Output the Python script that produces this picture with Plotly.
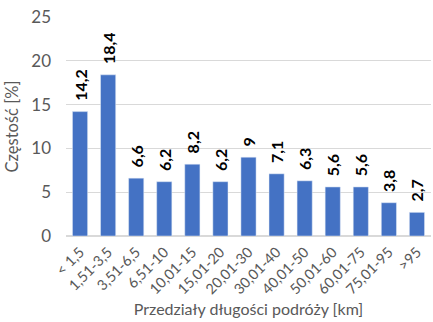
import plotly.graph_objects as go

categories = ["< 1,5", "1,51-3,5", "3,51-6,5", "6,51-10", "10,01-15", "15,01-20",
              "20,01-30", "30,01-40", "40,01-50", "50,01-60", "60,01-75", "75,01-95", ">95"]
values = [14.2, 18.4, 6.6, 6.2, 8.2, 6.2, 9, 7.1, 6.3, 5.6, 5.6, 3.8, 2.7]
y_ticks = [0, 5, 10, 15, 20, 25]

labels = ["\u00a0\u00a0" + str(v).replace(".", ",") for v in values]

fig = go.Figure(go.Bar(
    x=categories, y=values, text=labels, textposition="outside",
    textangle=-90, cliponaxis=False, constraintext="none",
    textfont=dict(family="Lato", size=16, color="#000000", weight="bold"),
    marker=dict(color="#4472C4"), width=0.54,
))
fig.update_layout(
    width=433, height=322, margin=dict(l=66, r=2, t=17, b=86, autoexpand=False),
    plot_bgcolor="white", paper_bgcolor="white", showlegend=False,
    font=dict(family="Lato", color="#595959"),
    uniformtext=dict(mode=False),
)
fig.update_yaxes(range=[0, 25], tickvals=y_ticks, showgrid=True, gridcolor="#d9d9d9",
                 gridwidth=1, zeroline=True, zerolinecolor="#d9d9d9", automargin=False,
                 tickfont=dict(size=17, color="#595959"), ticks="", ticklabelstandoff=14,
                 title=dict(text="Częstość [%]", font=dict(size=16.5, color="#595959"), standoff=8))
fig.update_xaxes(tickangle=-45, tickfont=dict(size=14.5, color="#595959"), ticks="", automargin=False,
                 ticklabelstandoff=4,
                 title=dict(text="Przedziały długości podróży [km]", font=dict(size=16, color="#595959"), standoff=7))
fig.write_html("out.html", config={"displayModeBar": False},
               post_script="document.body.style.margin='0';document.body.style.padding='0';")
